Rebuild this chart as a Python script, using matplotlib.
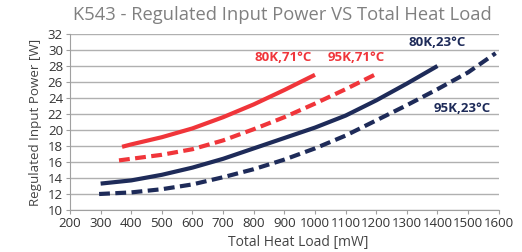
import matplotlib.pyplot as plt
import numpy as np

plt.rcParams['font.family'] = ['Open Sans', 'DejaVu Sans']

# curve readings (heat load mW, input power W)
x_80k_71 = [370, 400, 500, 600, 700, 800, 900, 1000]
y_80k_71 = [17.9, 18.2, 19.1, 20.2, 21.6, 23.2, 25.0, 26.9]

x_95k_71 = [360, 400, 500, 600, 700, 800, 900, 1000, 1100, 1200]
y_95k_71 = [16.2, 16.4, 16.9, 17.6, 18.7, 20.1, 21.6, 23.3, 25.1, 27.0]

x_80k_23 = [300, 400, 500, 600, 700, 800, 900, 1000, 1100, 1200, 1300, 1400]
y_80k_23 = [13.3, 13.7, 14.4, 15.3, 16.4, 17.7, 19.0, 20.3, 21.8, 23.7, 25.8, 28.0]

x_95k_23 = [295, 400, 500, 600, 700, 800, 900, 1000, 1100, 1200, 1300, 1400, 1500, 1590]
y_95k_23 = [12.0, 12.2, 12.6, 13.2, 14.1, 15.1, 16.3, 17.7, 19.3, 21.2, 23.1, 25.1, 27.2, 29.6]

red = '#f0353a'
navy = '#1e2b59'

fig = plt.figure(figsize=(5.22, 2.52), dpi=100)
ax = fig.add_axes([70/522, 42/252, 428.7/522, 176/252])

ax.plot(x_80k_71, y_80k_71, color=red, lw=3.0, solid_capstyle='butt')
ax.plot(x_95k_71, y_95k_71, color=red, lw=3.0, dashes=(2.6, 1.3))
ax.plot(x_80k_23, y_80k_23, color=navy, lw=3.0, solid_capstyle='butt')
ax.plot(x_95k_23, y_95k_23, color=navy, lw=3.0, dashes=(2.6, 1.3))

lab = dict(fontsize=9.5, fontweight='bold', ha='center', va='center')
ax.text(896, 29.1, '80K,71°C', color=red, **lab)
ax.text(1134, 29.1, '95K,71°C', color=red, **lab)
ax.text(1400, 30.9, '80K,23°C', color=navy, **lab)
ax.text(1481, 22.75, '95K,23°C', color=navy, **lab)

ax.set_xlim(200, 1600)
ax.set_ylim(10, 32)
ax.set_xticks(np.arange(200, 1601, 100))
ax.set_yticks(np.arange(10, 33, 2))
ax.grid(axis='y', color='#b0b0b0', lw=1)
ax.set_axisbelow(True)
for s in ['top', 'right']:
    ax.spines[s].set_visible(False)
for s in ['left', 'bottom']:
    ax.spines[s].set_color('#a0a0a0')
ax.tick_params(axis='both', colors='#a0a0a0', labelcolor='#333333', labelsize=9.5, length=3)
ax.tick_params(axis='x', pad=2)
ax.tick_params(axis='y', pad=2)

ax.set_xlabel('Total Heat Load [mW]', fontsize=10, color='#444444', va='center')
ax.xaxis.set_label_coords(0.532, -0.182)
ax.set_ylabel('Regulated Input Power [W]', fontsize=9.6, color='#444444', labelpad=4)
fig.text(282/522, 1 - 15/252, 'K543 - Regulated Input Power VS Total Heat Load',
         fontsize=13.2, color='#808080', ha='center', va='center')

fig.savefig('out.png', dpi=100)
